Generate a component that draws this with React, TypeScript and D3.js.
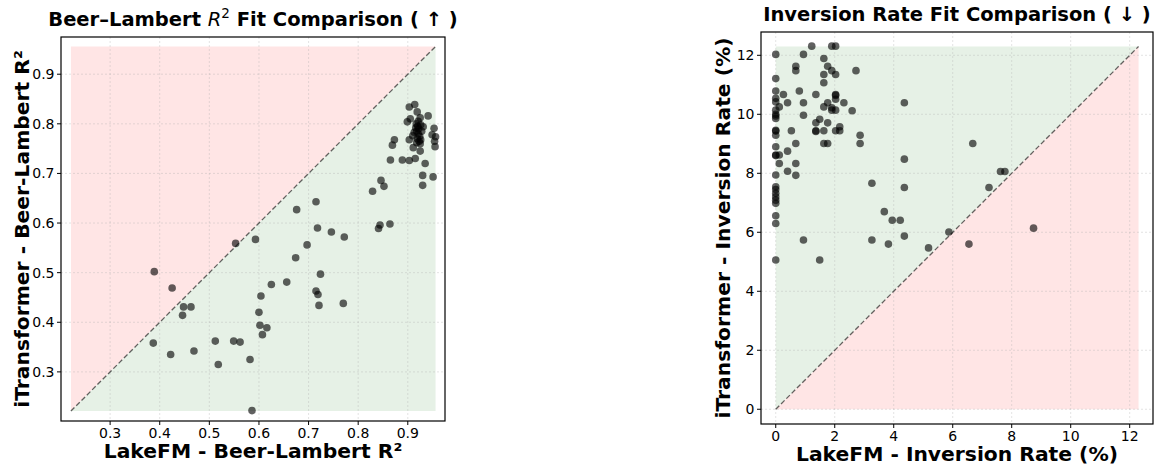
import React from "react";
import * as d3 from "d3";

// Beer–Lambert R² : [LakeFM, iTransformer]
const beerLambertPairs: [number, number][] = [
  [0.389, 0.502], [0.425, 0.469], [0.448, 0.431], [0.463, 0.431], [0.446, 0.414],
  [0.387, 0.358], [0.422, 0.335], [0.469, 0.342], [0.512, 0.362], [0.518, 0.315],
  [0.549, 0.362], [0.562, 0.360], [0.582, 0.325], [0.586, 0.222], [0.553, 0.559],
  [0.593, 0.567], [0.604, 0.453], [0.600, 0.420], [0.602, 0.394], [0.607, 0.375],
  [0.616, 0.389], [0.625, 0.476], [0.656, 0.481], [0.674, 0.530], [0.676, 0.627],
  [0.697, 0.556], [0.715, 0.643], [0.718, 0.590], [0.746, 0.582], [0.772, 0.572],
  [0.724, 0.497], [0.715, 0.463], [0.719, 0.456], [0.721, 0.434], [0.770, 0.438],
  [0.829, 0.664], [0.846, 0.686], [0.852, 0.674], [0.841, 0.589], [0.844, 0.596],
  [0.864, 0.598], [0.865, 0.727], [0.869, 0.757], [0.873, 0.768], [0.889, 0.727],
  [0.903, 0.726], [0.930, 0.696], [0.930, 0.676], [0.935, 0.720], [0.951, 0.693],
  [0.941, 0.816], [0.953, 0.791], [0.956, 0.774], [0.949, 0.778], [0.954, 0.765],
  [0.955, 0.754], [0.903, 0.834], [0.914, 0.839], [0.919, 0.824], [0.899, 0.804],
  [0.905, 0.810], [0.903, 0.768], [0.911, 0.752], [0.925, 0.745], [0.915, 0.730],
  [0.917, 0.800], [0.920, 0.795], [0.922, 0.790], [0.918, 0.785], [0.921, 0.780],
  [0.924, 0.775], [0.919, 0.770], [0.923, 0.765], [0.925, 0.760], [0.916, 0.792],
  [0.926, 0.798], [0.921, 0.805], [0.913, 0.783], [0.928, 0.785], [0.931, 0.794],
  [0.925, 0.812], [0.910, 0.776], [0.918, 0.762], [0.926, 0.768],
];

// Inversion Rate (%) : [LakeFM, iTransformer]
const inversionPairs: [number, number][] = [
  [0, 12.03], [0, 11.21], [0, 10.79], [0, 10.54], [0, 10.42], [0, 10.14], [0, 10.0],
  [0, 9.94], [0, 9.86], [0, 9.46], [0, 9.43], [0, 9.29], [0, 8.9], [0, 8.62], [0, 8.6],
  [0, 7.94], [0, 7.54], [0, 7.45], [0, 7.32], [0, 7.2], [0, 7.09], [0, 6.98], [0, 6.56],
  [0, 6.3], [0, 5.06],
  [0.12, 10.25], [0.12, 8.62], [0.12, 8.33], [0.26, 10.67], [0.4, 10.39], [0.4, 8.75],
  [0.4, 8.07], [0.53, 9.44], [0.68, 11.63], [0.68, 11.48], [0.68, 9.01], [0.68, 8.33],
  [0.68, 7.93], [0.8, 10.79], [0.94, 12.03], [0.94, 10.39], [0.94, 9.97], [0.94, 5.74],
  [1.22, 12.31], [1.36, 10.67], [1.36, 9.44], [1.36, 9.42], [1.36, 9.71], [1.49, 9.83],
  [1.49, 5.06], [1.63, 11.89], [1.76, 11.63], [1.63, 11.35], [1.63, 11.07], [1.9, 11.48],
  [1.63, 10.25], [1.76, 10.39], [1.76, 9.71], [1.63, 9.44], [1.63, 9.01], [1.76, 9.01],
  [1.9, 12.31], [2.03, 12.31], [1.9, 10.22], [1.9, 10.14], [2.03, 11.35], [2.03, 10.67],
  [2.03, 10.64], [2.03, 10.51], [2.03, 10.14], [2.17, 9.58], [2.17, 9.44], [2.03, 9.44],
  [2.31, 10.39], [2.59, 10.12], [2.72, 11.48], [2.86, 9.29], [2.86, 9.01], [3.26, 7.66],
  [3.26, 5.74], [3.68, 6.7], [3.82, 5.6], [3.95, 6.41], [4.22, 6.41], [4.36, 10.39],
  [4.36, 8.48], [4.36, 7.52], [4.36, 5.87], [5.18, 5.47], [5.87, 6.01], [6.55, 5.6],
  [6.68, 9.01], [7.23, 7.52], [7.62, 8.06], [7.77, 8.06], [8.74, 6.14],
];

const beerLambertTicks = [0.3, 0.4, 0.5, 0.6, 0.7, 0.8, 0.9];
const inversionTicks = [0, 2, 4, 6, 8, 10, 12];

const FONT = "DejaVu Sans, sans-serif";
const RED_FILL = "#ffe5e5";
const GREEN_FILL = "#e6f1e6";

type PanelProps = {
  pairs: [number, number][];
  ticks: number[];
  domain: [number, number];
  dataRange: [number, number];
  box: { x0: number; x1: number; y0: number; y1: number };
  upperFill: string;
  lowerFill: string;
  fmt: (v: number) => string;
  title: React.ReactNode;
  xLabel: React.ReactNode;
  yLabel: React.ReactNode;
  yLabelX: number;
};

function Panel(p: PanelProps) {
  const { box } = p;
  const x = d3.scaleLinear().domain(p.domain).range([box.x0, box.x1]);
  const y = d3.scaleLinear().domain(p.domain).range([box.y1, box.y0]);
  const [lo, hi] = p.dataRange;
  const upper = `M${x(lo)},${y(lo)}L${x(lo)},${y(hi)}L${x(hi)},${y(hi)}Z`;
  const lower = `M${x(lo)},${y(lo)}L${x(hi)},${y(lo)}L${x(hi)},${y(hi)}Z`;
  const cx = (box.x0 + box.x1) / 2;
  const cy = (box.y0 + box.y1) / 2;
  return (
    <g>
      <path d={upper} fill={p.upperFill} />
      <path d={lower} fill={p.lowerFill} />
      {p.ticks.map((t) => (
        <g key={"g" + t}>
          <line x1={x(t)} x2={x(t)} y1={box.y0} y2={box.y1} stroke="#b0b0b0" strokeOpacity={0.45} strokeWidth={0.8} strokeDasharray="2,2" />
          <line x1={box.x0} x2={box.x1} y1={y(t)} y2={y(t)} stroke="#b0b0b0" strokeOpacity={0.45} strokeWidth={0.8} strokeDasharray="2,2" />
        </g>
      ))}
      <line x1={x(lo)} y1={y(lo)} x2={x(hi)} y2={y(hi)} stroke="#000" strokeOpacity={0.6} strokeWidth={1.3} strokeDasharray="5,2.5" />
      {p.pairs.map(([a, b], i) => (
        <circle key={i} cx={x(a)} cy={y(b)} r={3.8} fill="#000" fillOpacity={0.62} />
      ))}
      <rect x={box.x0} y={box.y0} width={box.x1 - box.x0} height={box.y1 - box.y0} fill="none" stroke="#000" strokeWidth={1.2} />
      {p.ticks.map((t) => (
        <g key={"t" + t}>
          <line x1={x(t)} x2={x(t)} y1={box.y1} y2={box.y1 + 4} stroke="#000" strokeWidth={1} />
          <text x={x(t)} y={box.y1 + 16.5} textAnchor="middle" fontFamily={FONT} fontSize={14}>{p.fmt(t)}</text>
          <line x1={box.x0 - 4} x2={box.x0} y1={y(t)} y2={y(t)} stroke="#000" strokeWidth={1} />
          <text x={box.x0 - 6.5} y={y(t) + 5} textAnchor="end" fontFamily={FONT} fontSize={14}>{p.fmt(t)}</text>
        </g>
      ))}
      <text x={cx} y={box.y0 - 11.5} textAnchor="middle" fontFamily={FONT} fontSize={19.5} fontWeight="bold">{p.title}</text>
      <text x={cx} y={box.y1 + 37} textAnchor="middle" fontFamily={FONT} fontSize={20.3} fontWeight="bold">{p.xLabel}</text>
      <text transform={`translate(${p.yLabelX},${cy}) rotate(-90)`} textAnchor="middle" fontFamily={FONT} fontSize={20.3} fontWeight="bold">{p.yLabel}</text>
    </g>
  );
}

export default function App() {
  return (
    <svg width={1161} height={469} style={{ display: "block", position: "absolute", left: 0, top: 0, background: "#fff" }}>
      <Panel
        pairs={beerLambertPairs}
        ticks={beerLambertTicks}
        domain={[0.201, 0.975]}
        dataRange={[0.221, 0.956]}
        box={{ x0: 61, x1: 445, y0: 37, y1: 421 }}
        upperFill={RED_FILL}
        lowerFill={GREEN_FILL}
        fmt={(v) => v.toFixed(1)}
        title={<>Beer–Lambert <tspan fontStyle="italic" fontWeight="normal">R</tspan><tspan fontWeight="normal" fontSize={13.5} dy={-7.5}>2</tspan><tspan dy={7.5}> Fit Comparison ( ↑ )</tspan></>}
        xLabel="LakeFM - Beer-Lambert R²"
        yLabel="iTransformer - Beer-Lambert R²"
        yLabelX={29}
      />
      <Panel
        pairs={inversionPairs}
        ticks={inversionTicks}
        domain={[-0.5, 12.79]}
        dataRange={[0, 12.3]}
        box={{ x0: 761, x1: 1153, y0: 32, y1: 424 }}
        upperFill={GREEN_FILL}
        lowerFill={RED_FILL}
        fmt={(v) => String(v)}
        title="Inversion Rate Fit Comparison ( ↓ )"
        xLabel="LakeFM - Inversion Rate (%)"
        yLabel="iTransformer - Inversion Rate (%)"
        yLabelX={730}
      />
    </svg>
  );
}
